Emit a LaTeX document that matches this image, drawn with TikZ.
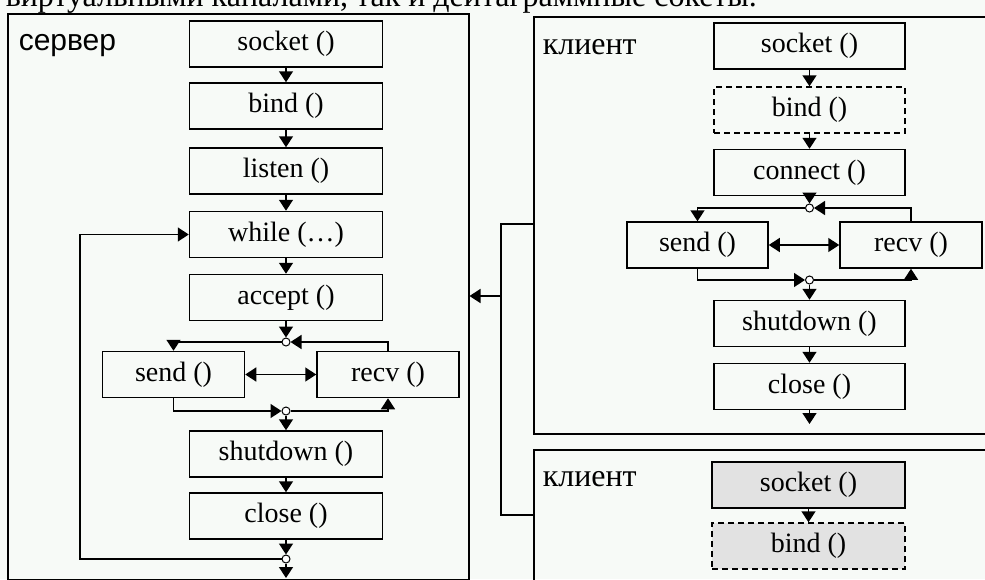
\documentclass[tikz,border=0pt]{standalone}
\usepackage{fontspec}
\setmainfont{Liberation Serif}
\newfontfamily\labfont{Liberation Sans}
\usetikzlibrary{arrows.meta}
\definecolor{paper}{RGB}{247,250,247}
\definecolor{shade}{RGB}{226,226,226}

\begin{document}
\begin{tikzpicture}[x=1pt, y=-1pt, line width=1.5pt, >={Triangle[width=14pt,length=11pt]},
  fn/.style={draw, inner sep=0pt, minimum width=193pt, minimum height=46pt, font=\fontsize{28}{30}\selectfont},
  half/.style={fn, minimum width=142pt},
  opt/.style={dash pattern=on 6pt off 4pt},
  panel/.style={draw, inner sep=0pt, anchor=north west},
  jn/.style={circle, draw, fill=white, inner sep=0pt, minimum size=8pt, line width=1pt},
  tag/.style={anchor=base west, inner sep=0pt}]
\fill[paper] (0,0) rectangle (985,579);
\useasboundingbox (0,0) rectangle (985,579);

\node[tag, font=\fontsize{32}{34}\selectfont] (intro) at (5,6)
{виртуальными каналами, так и дейтаграммные сокеты.};

% server
\node[panel, minimum width=461pt, minimum height=566pt] (srv) at (7,13) {};
\node[tag, font=\labfont\fontsize{30}{32}\selectfont] (srvlab) at (18,50) {сервер};

\node[fn] (ssock) at (286,44) {socket ()};
\node[fn] (sbind) at (286,106) {bind ()};
\node[fn] (slist) at (286,171) {listen ()};
\node[fn] (swhile) at (286,234.5) {while (…)};
\node[fn] (sacc) at (286,297.5) {accept ()};
\node[half] (ssend) at (173.5,374.5) {send ()};
\node[half] (srecv) at (388,374.5) {recv ()};
\node[fn] (sshut) at (286,454) {shutdown ()};
\node[fn] (sclose) at (286,516) {close ()};
\node[jn] (sja) at (286,342) {};
\node[jn] (sjb) at (286,411) {};
\node[jn] (sjc) at (286,559) {};
\coordinate (sout) at (286,578);
\coordinate (loopc) at (80,559);

\draw[->] (ssock) -- (sbind);
\draw[->] (sbind) -- (slist);
\draw[->] (slist) -- (swhile);
\draw[->] (swhile) -- (sacc);
\draw[->] (sacc) -- (sja);
\draw[->] (sja) -| (ssend);
\draw[->] (srecv) |- (sja);
\draw[<->] (ssend) -- (srecv);
\draw[->] (ssend) |- (sjb);
\draw[->] (sjb) -| (srecv);
\draw[->] (sjb) -- (sshut);
\draw[->] (sshut) -- (sclose);
\draw[->] (sclose) -- (sjc);
\draw[->] (sjc) -- (sout);
\draw[->] (sjc) -- (loopc) |- (swhile);

% client 1
\node[panel, minimum width=460pt, minimum height=417pt] (cl1) at (533,16) {};
\node[tag, font=\fontsize{32}{34}\selectfont] (cl1lab) at (542,54) {клиент};

\node[fn, minimum width=191pt] (csock) at (809.5,46) {socket ()};
\node[fn, opt, minimum width=191pt] (cbind) at (809.5,110) {bind ()};
\node[fn, minimum width=191pt] (cconn) at (809.5,172.5) {connect ()};
\node[half, minimum width=141pt] (csend) at (697.5,245) {send ()};
\node[half] (crecv) at (911,245) {recv ()};
\node[fn, minimum width=191pt] (cshut) at (809.5,323.5) {shutdown ()};
\node[fn, minimum width=191pt] (cclose) at (809.5,386.5) {close ()};
\node[jn] (cja) at (809.5,208) {};
\node[jn] (cjb) at (809.5,280) {};
\coordinate (cout) at (809.5,424);

\draw[->] (csock) -- (cbind);
\draw[->] (cbind) -- (cconn);
\draw[->] (cconn) -- (cja);
\draw[->] (cja) -| (csend);
\draw[->] (crecv) |- (cja);
\draw[<->] (csend) -- (crecv);
\draw[->] (csend) |- (cjb);
\draw[->] (cjb) -| (crecv);
\draw[->] (cjb) -- (cshut);
\draw[->] (cshut) -- (cclose);
\draw[->] (cclose) -- (cout);

% client 2
\node[panel, minimum width=460pt, minimum height=140pt] (cl2) at (533,449) {};
\node[tag, font=\fontsize{32}{34}\selectfont] (cl2lab) at (542,486) {клиент};

\node[fn, fill=shade, minimum width=193pt] (dsock) at (808.5,485) {socket ()};
\node[fn, opt, fill=shade, minimum width=193pt] (dbind) at (808.5,546) {bind ()};
\draw[->] (dsock) -- (dbind);

% links to server
\coordinate (t1) at (501,224);
\coordinate (t2) at (501,515);
\coordinate (hub) at (501,296);
\draw (cl1.west |- t1) -- (t1) -- (t2) -- (cl2.west |- t2);
\draw[->] (hub) -- (srv.east |- hub);
\end{tikzpicture}
\end{document}
